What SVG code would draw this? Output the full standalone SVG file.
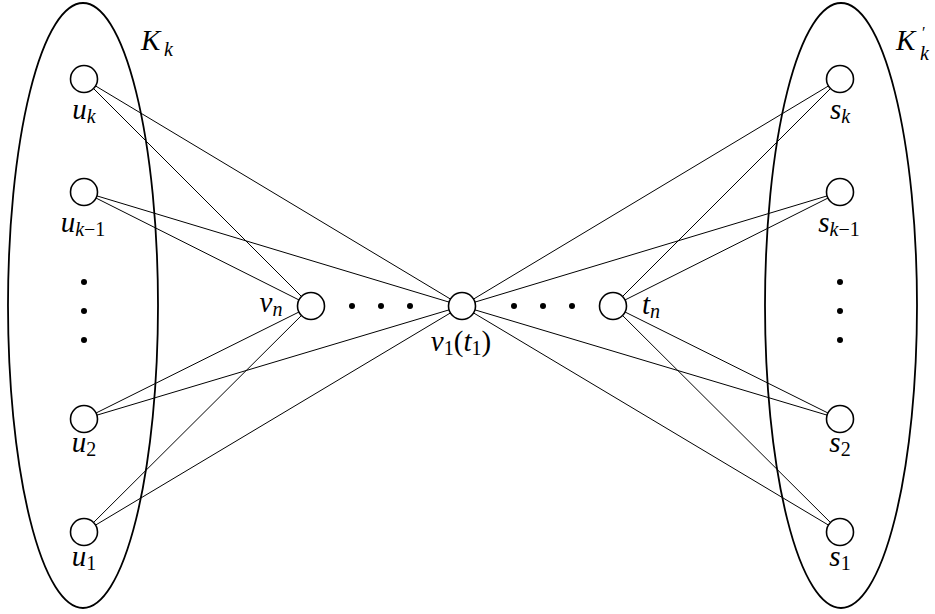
<svg xmlns="http://www.w3.org/2000/svg" width="935" height="614" viewBox="0 0 935 614">
<style>
.e{stroke:#000;stroke-width:1;fill:none}
.n{stroke:#000;stroke-width:1.6;fill:#fff}
.g{stroke:#000;stroke-width:1.8;fill:none}
.d{fill:#000}
text{font-family:"Liberation Serif","DejaVu Serif",serif;font-style:italic;font-size:29px;fill:#000}
.s{font-size:20px}
.u{font-style:normal}
.p{font-size:16px;font-style:normal}
</style>
<rect width="935" height="614" fill="#fff"/>
<g id="groups">
<ellipse class="g" cx="83" cy="305.5" rx="75" ry="302.5"/>
<ellipse class="g" cx="841" cy="305.5" rx="76" ry="302.5"/>
</g>
<g id="connectors">
<line class="e" x1="84" y1="79" x2="311" y2="306"/>
<line class="e" x1="84" y1="79" x2="462" y2="306"/>
<line class="e" x1="84" y1="192" x2="311" y2="306"/>
<line class="e" x1="84" y1="192" x2="462" y2="306"/>
<line class="e" x1="84" y1="419" x2="311" y2="306"/>
<line class="e" x1="84" y1="419" x2="462" y2="306"/>
<line class="e" x1="84" y1="532" x2="311" y2="306"/>
<line class="e" x1="84" y1="532" x2="462" y2="306"/>
<line class="e" x1="840" y1="79" x2="613" y2="306"/>
<line class="e" x1="840" y1="79" x2="462" y2="306"/>
<line class="e" x1="840" y1="192" x2="613" y2="306"/>
<line class="e" x1="840" y1="192" x2="462" y2="306"/>
<line class="e" x1="840" y1="419" x2="613" y2="306"/>
<line class="e" x1="840" y1="419" x2="462" y2="306"/>
<line class="e" x1="840" y1="532" x2="613" y2="306"/>
<line class="e" x1="840" y1="532" x2="462" y2="306"/>
</g>
<g id="dots">
<circle class="d" cx="84" cy="282" r="3"/>
<circle class="d" cx="84" cy="311" r="3"/>
<circle class="d" cx="84" cy="340" r="3"/>
<circle class="d" cx="840" cy="282" r="3"/>
<circle class="d" cx="840" cy="311" r="3"/>
<circle class="d" cx="840" cy="340" r="3"/>
<circle class="d" cx="352" cy="306" r="3"/>
<circle class="d" cx="381" cy="306" r="3"/>
<circle class="d" cx="410" cy="306" r="3"/>
<circle class="d" cx="514" cy="306" r="3"/>
<circle class="d" cx="543" cy="306" r="3"/>
<circle class="d" cx="572" cy="306" r="3"/>
</g>
<g id="u_k"><circle class="n" cx="84" cy="79" r="13.5"/><text x="84" y="119" text-anchor="middle">u<tspan class="s" dy="4">k</tspan></text></g>
<g id="u_k-1"><circle class="n" cx="84" cy="192" r="13.5"/><text x="83" y="232" text-anchor="middle">u<tspan class="s" dy="4">k<tspan class="u">−1</tspan></tspan></text></g>
<g id="u_2"><circle class="n" cx="84" cy="419" r="13.5"/><text x="84" y="452" text-anchor="middle">u<tspan class="s u" dy="4">2</tspan></text></g>
<g id="u_1"><circle class="n" cx="84" cy="532" r="13.5"/><text x="84" y="566" text-anchor="middle">u<tspan class="s u" dy="4">1</tspan></text></g>
<g id="v_n"><circle class="n" cx="311" cy="306" r="13.5"/><text x="271" y="312" text-anchor="middle">v<tspan class="s" dy="4">n</tspan></text></g>
<g id="v_1"><circle class="n" cx="462" cy="306" r="13.5"/><text x="461" y="351" text-anchor="middle">v<tspan class="s u" dy="4">1</tspan><tspan class="u" dy="-4">(</tspan>t<tspan class="s u" dy="4">1</tspan><tspan class="u" dy="-4">)</tspan></text></g>
<g id="t_n"><circle class="n" cx="613" cy="306" r="13.5"/><text x="651" y="314" text-anchor="middle">t<tspan class="s" dy="4">n</tspan></text></g>
<g id="s_k"><circle class="n" cx="840" cy="79" r="13.5"/><text x="840" y="119" text-anchor="middle">s<tspan class="s" dy="4">k</tspan></text></g>
<g id="s_k-1"><circle class="n" cx="840" cy="192" r="13.5"/><text x="839" y="232" text-anchor="middle">s<tspan class="s" dy="4">k<tspan class="u">−1</tspan></tspan></text></g>
<g id="s_2"><circle class="n" cx="840" cy="419" r="13.5"/><text x="840" y="452" text-anchor="middle">s<tspan class="s u" dy="4">2</tspan></text></g>
<g id="s_1"><circle class="n" cx="840" cy="532" r="13.5"/><text x="840" y="566" text-anchor="middle">s<tspan class="s u" dy="4">1</tspan></text></g>
<g id="K_k"><text x="141" y="50">K<tspan class="s" x="164" y="56">k</tspan></text></g>
<g id="K_k_prime"><text x="896" y="50">K<tspan class="p" x="922" y="38">′</tspan><tspan class="s" x="920" y="60">k</tspan></text></g>
</svg>
